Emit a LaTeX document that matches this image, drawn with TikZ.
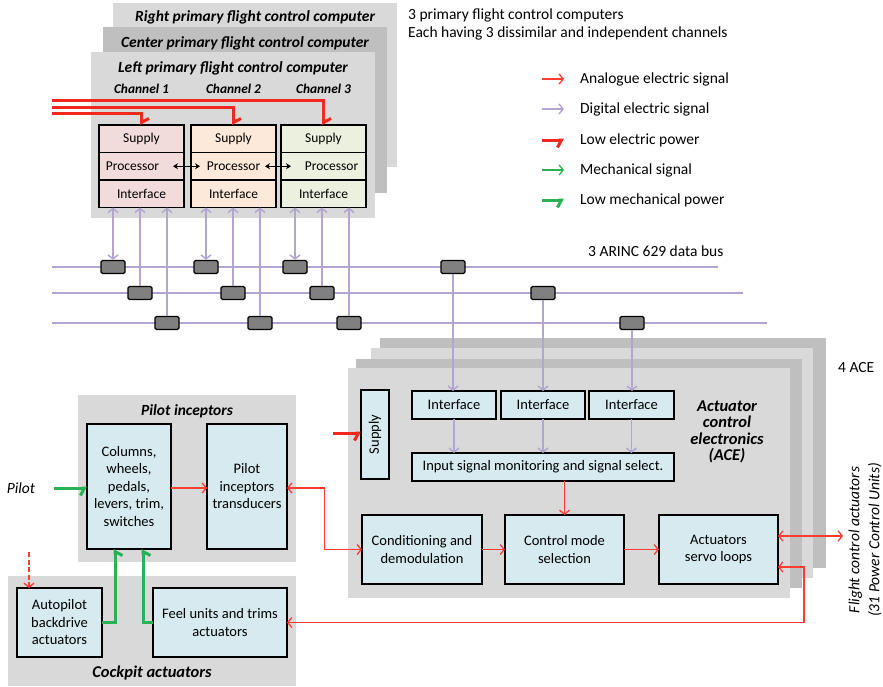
\documentclass[tikz,border=0pt]{standalone}
\usepackage{fontspec}
\setmainfont{Carlito}
\usetikzlibrary{arrows.meta,positioning,calc}
\definecolor{panelgray}{RGB}{217,217,217}
\definecolor{paneldark}{RGB}{191,191,191}
\definecolor{ice}{RGB}{214,234,240}
\definecolor{chanA}{RGB}{242,220,219}
\definecolor{chanB}{RGB}{253,233,217}
\definecolor{chanC}{RGB}{235,241,222}
\definecolor{busline}{RGB}{180,165,208}
\definecolor{sigred}{RGB}{255,60,50}
\definecolor{pwred}{RGB}{240,40,30}
\definecolor{mechgreen}{RGB}{40,178,85}
\definecolor{cplgray}{RGB}{128,128,128}
\newcommand{\txtfont}{\fontsize{15.5}{18}\selectfont}
\newcommand{\boxfont}{\fontsize{14.5}{17.5}\selectfont}
\newcommand{\chanfont}{\fontsize{13.5}{16}\selectfont}
\newcommand{\ttlfont}{\fontsize{15.5}{16.5}\selectfont\bfseries\itshape}
\newcommand{\chfont}{\fontsize{13.4}{14}\selectfont\bfseries\itshape}

\tikzset{
  sz/.style 2 args={minimum width=#1pt,minimum height=#2pt},
  panel/.style={inner sep=0pt,outer sep=0pt,anchor=north west},
  blk/.style={draw,line width=1.2pt,fill=ice,align=center,inner sep=1pt,outer sep=0pt,font=\boxfont},
  chan/.style={draw,line width=1.2pt,inner sep=0pt,outer sep=0pt,sz={85}{27.5},font=\chanfont},
  ttl/.style={font=\ttlfont},
  chttl/.style={font=\chfont},
  coupler/.style={draw,line width=1.3pt,fill=cplgray,rounded corners=1.5pt,sz={24}{13},inner sep=0pt},
  bus/.style={draw=busline,line width=1.8pt},
  dig/.style={draw=busline,line width=1.5pt},
  digarr/.style={dig,-{Straight Barb[length=4pt,width=10pt]}},
  digdbl/.style={dig,{Straight Barb[length=4pt,width=10pt]}-{Straight Barb[length=4pt,width=10pt]}},
  sig/.style={draw=sigred,line width=1.3pt},
  sigarr/.style={sig,-{Straight Barb[length=4pt,width=10pt]}},
  sigdbl/.style={sig,{Straight Barb[length=4pt,width=10pt]}-{Straight Barb[length=4pt,width=10pt]}},
  power/.style={draw=pwred,line width=3pt,-{Straight Barb[harpoon,swap,length=4pt,width=15pt]}},
  powerdn/.style={power,-{Straight Barb[harpoon,length=4pt,width=15pt]}},
  mecharr/.style={draw=mechgreen,line width=1.3pt,-{Straight Barb[length=4pt,width=10pt]}},
  mech/.style={draw=mechgreen,line width=3pt,-{Straight Barb[harpoon,swap,length=4pt,width=15pt]}},
  duplex/.style={line width=1.2pt,{Stealth[length=5pt,width=6pt]}-{Stealth[length=5pt,width=6pt]}},
  legtxt/.style={anchor=west,inner sep=0pt}
}

\begin{document}
\begin{tikzpicture}[x=1pt,y=-1pt,font=\txtfont]
\useasboundingbox (0,0) rectangle (883,686);

% the three primary flight control computers
\node[panel,fill=panelgray,sz={284}{164}] (pfcR) at (113,3) {};
\node[ttl] at ($(pfcR.north)+(0,14)$) {Right primary flight control computer};
\node[panel,fill=paneldark,sz={284}{166}] (pfcC) at (103,27) {};
\node[ttl] at ($(pfcC.north)+(0,16)$) {Center primary flight control computer};
\node[panel,fill=panelgray,sz={284}{166}] (pfcL) at (91,52) {};
\node[ttl] at ($(pfcL.north)+(0,16)$) {Left primary flight control computer};

\node[anchor=north west,align=left,inner sep=0pt] (pfcNote) at (408,9)
  {3 primary flight control computers\\Each having 3 dissimilar and independent channels};

% channels of the left computer
\foreach \i/\x/\c/\px in {1/99/chanA/-9,2/191/chanB/0,3/281/chanC/8} {
  \node[chan,fill=\c,anchor=north west] (sup\i) at (\x,125) {Supply};
  \node[chan,fill=\c,below=0pt of sup\i,label={[xshift=\px pt,font=\chanfont]center:Processor}] (proc\i) {};
  \node[chan,fill=\c,below=0pt of proc\i] (itf\i) {Interface};
  \node[chttl] at ($(sup\i.north)+(0,-36)$) {Channel \i};
}
\draw[duplex] ([xshift=-11pt]proc1.east) -- ([xshift=9pt]proc2.west);
\draw[duplex] ([xshift=-11pt]proc2.east) -- ([xshift=10pt]proc3.west);

\foreach \i/\y in {1/113,2/107,3/100} {
  \coordinate (pw\i) at (52,\y);
  \draw[powerdn] (pw\i) -| (sup\i.north);
}

% legend
\foreach \n/\y/\s/\t in {1/79/sigarr/Analogue electric signal,2/109/digarr/Digital electric signal,
  3/140/power/Low electric power,4/170/mecharr/Mechanical signal,5/200/mech/Low mechanical power} {
  \node[legtxt] (leg\n) at (580,\y) {\t};
  \draw[\s] ([xshift=-38pt]leg\n.west) -- ([xshift=-16pt]leg\n.west);
}

% actuator control electronics, 4 of them
\node[panel,fill=paneldark,sz={446}{230}] (ace4) at (380,338) {};
\node[panel,fill=panelgray,sz={442}{230}] (ace3) at (371,348) {};
\node[panel,fill=paneldark,sz={446}{229}] (ace2) at (356,359) {};
\node[panel,fill=panelgray,sz={442}{230}] (ace1) at (348,368) {};
\node[anchor=west,inner sep=0pt] (aceNum) at (838,368) {4 ACE};

\node[blk,sz={28}{89}] (asup) at (375,434.5) {\rotatebox{90}{Supply}};
\node[blk,sz={84}{28}] (aif1) at (454,405) {Interface};
\node[blk,sz={84}{28}] (aif2) at (543,405) {Interface};
\node[blk,sz={85}{28}] (aif3) at (631.5,405) {Interface};
\node[blk,sz={262}{28}] (inp) at (543,467) {Input signal monitoring and signal select.};
\node[blk,sz={120}{69}] (cond) at (422,549.5) {Conditioning and\\demodulation};
\node[blk,sz={119}{69},right=23pt of cond] (cms) {Control mode\\selection};
\node[blk,sz={119}{69},right=35pt of cms] (servo) {Actuators\\servo loops};
\node[ttl,align=center,font=\fontsize{16.5}{16.5}\selectfont\bfseries\itshape] (aceTtl) at (727,432)
  {Actuator\\control\\electronics\\(ACE)};

\coordinate (pwace) at (333,433);
\draw[power] (pwace) -- (pwace -| asup.west);
\foreach \b in {1,2,3} \draw[digarr] (aif\b) -- (aif\b |- inp.north);
\draw[sigarr] (inp.south -| cms.north) -- (cms.north);
\draw[sigarr] (cond) -- (cms);
\draw[sigarr] (cms) -- (servo);

% data buses
\foreach \b/\y/\e in {1/267/718,2/293/743,3/323/767} {
  \coordinate (bus\b W) at (52,\y);
  \coordinate (bus\b E) at (\e,\y);
  \draw[bus] (bus\b W) -- (bus\b E);
}
\node[anchor=west,inner sep=0pt] (busTxt) at (588,251) {3 ARINC 629 data bus};
\foreach \b/\y/\xa/\xb/\xc/\xd in {1/267/113/206/295/453,2/293/140/233/322/543,3/323/167/260/349/632} {
  \node[coupler] (cp\b1) at (\xa,\y) {};
  \node[coupler] (cp\b2) at (\xb,\y) {};
  \node[coupler] (cp\b3) at (\xc,\y) {};
  \node[coupler] (cp\b4) at (\xd,\y) {};
}
\foreach \i in {1,2,3} {
  \draw[digdbl] (cp1\i.north) -- (cp1\i.north |- itf\i.south);
  \draw[digarr] (cp2\i.north) -- (cp2\i.north |- itf\i.south);
  \draw[digarr] (cp3\i.north) -- (cp3\i.north |- itf\i.south);
  \draw[digarr] (cp\i4.south) -- (cp\i4.south |- aif\i.north);
}

% pilot inceptors
\node[panel,fill=panelgray,sz={218}{167}] (pinc) at (78,395) {};
\node[ttl] at ($(pinc.north)+(0,16)$) {Pilot inceptors};
\node[blk,sz={84}{125}] (cols) at (129,486.5) {Columns,\\wheels,\\pedals,\\levers, trim,\\switches};
\node[blk,sz={80}{125}] (trans) at (247,486.5) {Pilot\\inceptors\\transducers};
\node[font=\txtfont\itshape] (pilot) at (21,488) {Pilot};
\draw[sigarr] ([yshift=-1.5pt]cols.east) -- ([yshift=-1.5pt]trans.west);
\draw[mech,shorten <=15pt] (pilot) -- (pilot -| cols.west);

% cockpit actuators
\node[panel,fill=panelgray,sz={288}{110}] (cka) at (8,576) {};
\node[ttl,font=\fontsize{16.5}{17}\selectfont\bfseries\itshape] at ($(cka.south)+(0,-13)$) {Cockpit actuators};
\node[blk,sz={85}{69}] (auto) at (59.5,622.5) {Autopilot\\backdrive\\actuators};
\node[blk,sz={134}{69}] (feel) at (220,622.5) {Feel units and trims\\actuators};
\coordinate (apin) at (29,552);
\draw[sigarr,dash pattern=on 5pt off 2.5pt] (apin) -- (apin |- auto.north);
\draw[mech] (auto.east) -| ([xshift=-14pt]cols.south);
\draw[mech] (feel.west) -| ([xshift=14pt]cols.south);

% links between cockpit and ACE
\draw[sigdbl] ([yshift=-1.5pt]trans.east) -| ($(trans.east)!0.5!(cond.west)$) |- (cond.west);
\draw[sigdbl] ([yshift=-17.5pt]servo.east) -- ++(26,0) |- (feel.east);
\coordinate (fcaEnd) at (843,536);
\draw[sigdbl] (servo.east |- fcaEnd) -- (fcaEnd);
\node[rotate=90,align=center,font=\fontsize{15.5}{20}\selectfont\itshape] (fcaTxt) at (865,540)
  {Flight control actuators\\(31 Power Control Units)};
\end{tikzpicture}
\end{document}
